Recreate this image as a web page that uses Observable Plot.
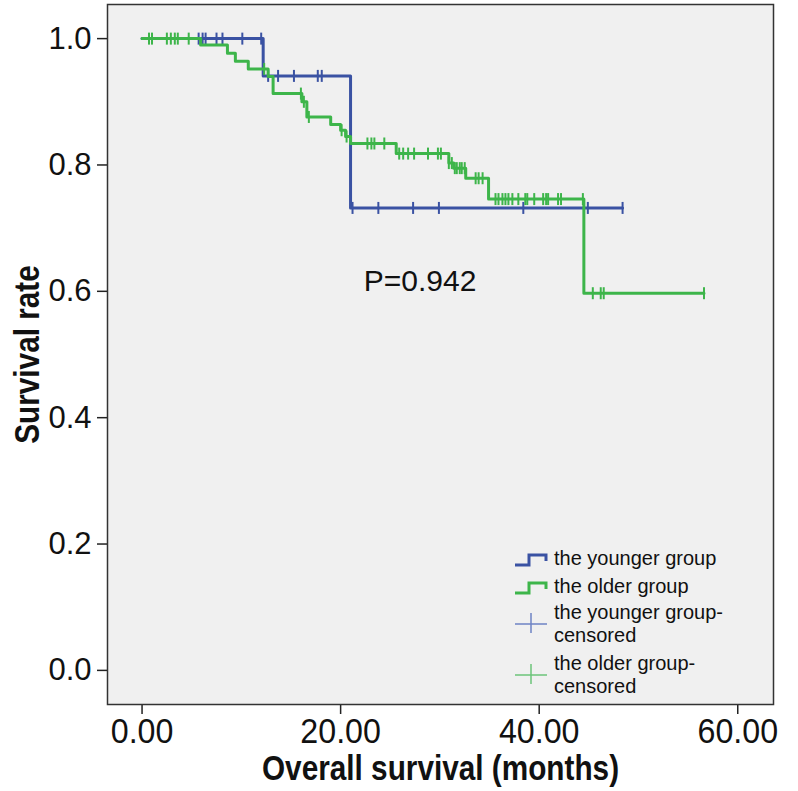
<!DOCTYPE html>
<html>
<head>
<meta charset="utf-8">
<script src="https://cdn.jsdelivr.net/npm/d3@7"></script>
<script src="https://cdn.jsdelivr.net/npm/@observablehq/plot@0.6"></script>
<style>
  html, body { margin: 0; padding: 0; background: #ffffff; }
  #chart { position: relative; width: 798px; height: 791px; }
</style>
</head>
<body>
<div id="chart"></div>
<script>
// ---- data ----
const groups = ["the younger group", "the older group"];

// Kaplan-Meier step points: time (months) and survival
const youngerTime = [0, 12.2, 21.0, 48.4];
const youngerSurv = [1.0, 0.941, 0.732, 0.732];

const olderTime = [0, 5.9, 8.6, 9.4, 10.7, 12.7, 13.2, 16.1, 16.6, 19.0, 20.0, 20.5, 21.0, 25.6, 30.9, 31.4, 32.6, 34.9, 44.5, 56.6];
const olderSurv = [1.0, 0.990, 0.977, 0.964, 0.952, 0.940, 0.913, 0.900, 0.876, 0.864, 0.855, 0.845, 0.834, 0.818, 0.803, 0.795, 0.779, 0.746, 0.597, 0.597];

// censored observation times
const youngerCensor = [5.7, 6.1, 6.4, 7.5, 8.1, 10.1, 12.0, 12.7, 13.7, 15.3, 17.7, 18.1, 21.2, 23.8, 27.3, 29.9, 38.4, 44.9, 48.4];
const olderCensor = [0.7, 1.0, 2.5, 2.9, 3.3, 3.6, 4.7, 12.3, 16.0, 16.3, 16.8, 20.1, 20.6, 22.7, 23.1, 23.4, 24.4,
  25.9, 26.3, 26.8, 27.4, 28.8, 29.8, 30.1, 30.9, 31.2, 31.5, 31.7, 32.0, 32.2, 32.5,
  33.6, 33.9, 34.3, 35.6, 35.9, 36.3, 36.6, 36.9, 37.3, 37.9, 38.6, 38.8, 39.5, 40.4, 40.7, 40.9, 41.9, 42.2, 44.4,
  45.4, 46.2, 46.5, 56.6];

const xTicks = [0, 20, 40, 60];
const yTicks = [0.0, 0.2, 0.4, 0.6, 0.8, 1.0];
const xTitle = "Overall survival (months)";
const yTitle = "Survival rate";
const pText = "P=0.942";
const pPos = [28.0, 0.615];

// ---- build tables ----
const colors = {"the younger group": "#3a52a3", "the older group": "#3db54a"};
const steps = [
  ...youngerTime.map((t, i) => ({group: groups[0], t, s: youngerSurv[i]})),
  ...olderTime.map((t, i) => ({group: groups[1], t, s: olderSurv[i]}))
];
function survAt(times, survs, t) {
  let s = survs[0];
  for (let i = 0; i < times.length; i++) if (times[i] <= t + 1e-9) s = survs[i];
  return s;
}
const censors = [
  ...youngerCensor.map(t => ({group: groups[0], t, s: survAt(youngerTime, youngerSurv, t)})),
  ...olderCensor.map(t => ({group: groups[1], t, s: survAt(olderTime, olderSurv, t)}))
];

const vtick = {draw(ctx, size) { const r = Math.sqrt(size / Math.PI); ctx.moveTo(0, -r); ctx.lineTo(0, r); }};

const plot = Plot.plot({
  width: 798,
  height: 791,
  marginLeft: 107,
  marginRight: 25,
  marginTop: 4,
  marginBottom: 87,
  style: {background: "#ffffff", fontFamily: "Liberation Sans, Arial, sans-serif"},
  x: {domain: [-3.48, 63.6]},
  y: {domain: [-0.054, 1.054]},
  color: {domain: groups, range: groups.map(g => colors[g])},
  marks: [
    Plot.frame({fill: "#f0f0f0", stroke: "none"}),
    Plot.axisX({ticks: xTicks, tickFormat: d => d.toFixed(2), tickSize: 10, tickPadding: 4,
      fontSize: 35, fontFamily: "Liberation Sans", label: null, stroke: "#222", strokeWidth: 1.5, color: "#111"}),
    Plot.axisY({ticks: yTicks, tickFormat: d => d.toFixed(1), tickSize: 10, tickPadding: 6,
      fontSize: 31, fontFamily: "Liberation Sans", label: null, stroke: "#222", strokeWidth: 1.5, color: "#111"}),
    Plot.line(steps.filter(d => d.group === groups[0]), {x: "t", y: "s", stroke: "group", curve: "step-after", strokeWidth: 3}),
    Plot.dot(censors.filter(d => d.group === groups[0]), {x: "t", y: "s", stroke: "group", symbol: vtick, r: 6, strokeWidth: 2}),
    Plot.line(steps.filter(d => d.group === groups[1]), {x: "t", y: "s", stroke: "group", curve: "step-after", strokeWidth: 3}),
    Plot.dot(censors.filter(d => d.group === groups[1]), {x: "t", y: "s", stroke: "group", symbol: vtick, r: 6, strokeWidth: 2}),
    Plot.frame({stroke: "#333", strokeWidth: 1.5}),
    Plot.text([pText], {x: () => pPos[0], y: () => pPos[1], text: d => d, fontSize: 30, fill: "#111"}),
    Plot.text([xTitle], {frameAnchor: "bottom", dy: 75, text: d => d, fontSize: 35,
      fontWeight: "bold", fontFamily: "Liberation Sans", fill: "#111"}),
    Plot.text([yTitle], {frameAnchor: "left", textAnchor: "middle", dx: -80, rotate: -90, text: d => d, fontSize: 35,
      fontWeight: "bold", fontFamily: "Liberation Sans", fill: "#111"})
  ]
});
document.getElementById("chart").appendChild(plot);

// condensed look for x tick labels and axis titles (horizontal squeeze via textLength)
const svg = d3.select(plot);
function squeeze(sel, k) {
  sel.each(function() {
    const L = this.getComputedTextLength();
    this.setAttribute("textLength", (L * k).toFixed(2));
    this.setAttribute("lengthAdjust", "spacingAndGlyphs");
  });
}
squeeze(svg.selectAll('g[aria-label="x-axis tick label"] text'), 0.92);
squeeze(svg.selectAll("text").filter(function() { return this.textContent === xTitle || this.textContent === yTitle; }), 0.85);

// ---- legend (inside frame, bottom right) ----
const lg = svg.append("g").attr("font-family", "Liberation Sans, Arial, sans-serif").attr("font-size", 20)
  .attr("fill", "#111").attr("text-anchor", "start");
const lightColors = {"the younger group": "#6e83c4", "the older group": "#6cc47a"};
const items = [
  {type: "line", group: groups[0], y: 558, lines: ["the younger group"]},
  {type: "line", group: groups[1], y: 586, lines: ["the older group"]},
  {type: "censor", group: groups[0], y: 624, lines: ["the younger group-", "censored"]},
  {type: "censor", group: groups[1], y: 675, lines: ["the older group-", "censored"]}
];
items.forEach(it => {
  if (it.type === "line") {
    lg.append("path")
      .attr("d", `M515,${it.y + 7}H529V${it.y - 3}H546V${it.y + 3}`)
      .attr("fill", "none").attr("stroke", colors[it.group]).attr("stroke-width", 3);
    lg.append("text").attr("x", 554).attr("y", it.y + 7).text(it.lines[0]);
  } else {
    lg.append("path").attr("d", `M515,${it.y}H547`).attr("stroke", lightColors[it.group]).attr("stroke-width", 1.5);
    lg.append("path").attr("d", `M531,${it.y - 11}V${it.y + 9}`).attr("stroke", lightColors[it.group]).attr("stroke-width", 1.5);
    lg.append("text").attr("x", 554).attr("y", it.y - 5).text(it.lines[0]);
    lg.append("text").attr("x", 554).attr("y", it.y + 17.6).text(it.lines[1]);
  }
});
</script>
</body>
</html>
